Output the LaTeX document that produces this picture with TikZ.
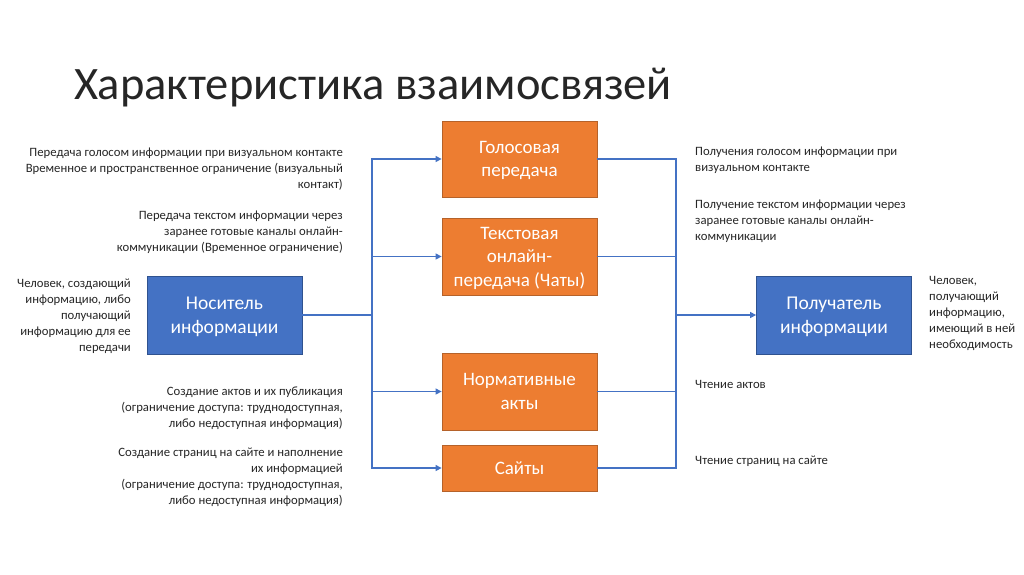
\documentclass[tikz,border=0pt]{standalone}
\usepackage{fontspec}
\setmainfont{Carlito}
\usetikzlibrary{arrows.meta}
\definecolor{orng}{HTML}{ED7D31}
\definecolor{orngd}{HTML}{B5622A}
\definecolor{blu}{HTML}{4472C4}
\definecolor{blud}{HTML}{2F528F}
\definecolor{txt}{HTML}{262626}
\begin{document}
\begin{tikzpicture}[x=1pt,y=-1pt,
  obox/.style={draw=orngd,fill=orng,line width=0.8pt,text=white,minimum width=155pt,align=center,font=\fontsize{19}{23.5}\selectfont,inner sep=0pt,text depth=0pt},
  bbox/.style={draw=blud,fill=blu,line width=0.8pt,text=white,minimum width=155pt,minimum height=78pt,align=center,font=\fontsize{19.5}{24}\selectfont,inner sep=0pt,text depth=0pt},
  note/.style={inner sep=0pt,font=\fontsize{12.7}{16}\selectfont,text=txt},
  conn/.style={draw=blu,line width=1.2pt},
  arr/.style={conn,-{Triangle[length=6pt,width=6pt]}}]
\useasboundingbox (0,0) rectangle (1024,574);
\fill[white] (0,0) rectangle (1024,574);
\node[anchor=base west,inner sep=0pt,font=\fontsize{46.5}{52}\selectfont,text=txt] (title) at (74,99) {Характеристика взаимосвязей};

\node[bbox] (nos) at (224.5,315) {Носитель\\информации};
\node[bbox] (pol) at (834,315) {Получатель\\информации};
\node[obox,minimum height=76pt] (golos) at (519.5,159) {Голосовая\\передача};
\node[obox,minimum height=77pt] (text) at (519.5,256.5) {Текстовая\\онлайн-\\передача (Чаты)};
\node[obox,minimum height=77pt] (norm) at (519.5,391.5) {Нормативные\\акты};
\node[obox,minimum height=46pt] (sait) at (519.5,468) {Сайты};

\coordinate (L) at (372,315);
\coordinate (R) at (676,315);
\draw[conn] (nos.east) -- (L);
\draw[arr] (L) |- (golos.west);
\draw[arr] (L) |- (text.west);
\draw[arr] (L) |- (norm.west);
\draw[arr] (L) |- (sait.west);
\draw[conn] (golos.east) -| (R);
\draw[conn] (text.east) -| (R);
\draw[conn] (norm.east) -| (R);
\draw[conn] (sait.east) -| (R);
\draw[arr] (R) -- (pol.west);

\node[note,anchor=east,align=right] (l1) at (343,169) {Передача голосом информации при визуальном контакте\\Временное и пространственное ограничение (визуальный\\контакт)};
\node[note,anchor=east,align=right] (l2) at (343,232) {Передача текстом информации через\\заранее готовые каналы онлайн-\\коммуникации (Временное ограничение)};
\node[note,anchor=east,align=right] (l3) at (131,316) {Человек, создающий\\информацию, либо\\получающий\\информацию для ее\\передачи};
\node[note,anchor=east,align=right] (l4) at (343,408) {Создание актов и их публикация\\(ограничение доступа: труднодоступная,\\либо недоступная информация)};
\node[note,anchor=east,align=right] (l5) at (343,477) {Создание страниц на сайте и наполнение\\их информацией\\(ограничение доступа: труднодоступная,\\либо недоступная информация)};

\node[note,anchor=west,align=left] (r1) at (695,160) {Получения голосом информации при\\визуальном контакте};
\node[note,anchor=west,align=left] (r2) at (695,221) {Получение текстом информации через\\заранее готовые каналы онлайн-\\коммуникации};
\node[note,anchor=west,align=left] (r3) at (695,384) {Чтение актов};
\node[note,anchor=west,align=left] (r4) at (695,461) {Чтение страниц на сайте};
\node[note,anchor=west,align=left] (r5) at (929,313) {Человек,\\получающий\\информацию,\\имеющий в ней\\необходимость};
\end{tikzpicture}
\end{document}
